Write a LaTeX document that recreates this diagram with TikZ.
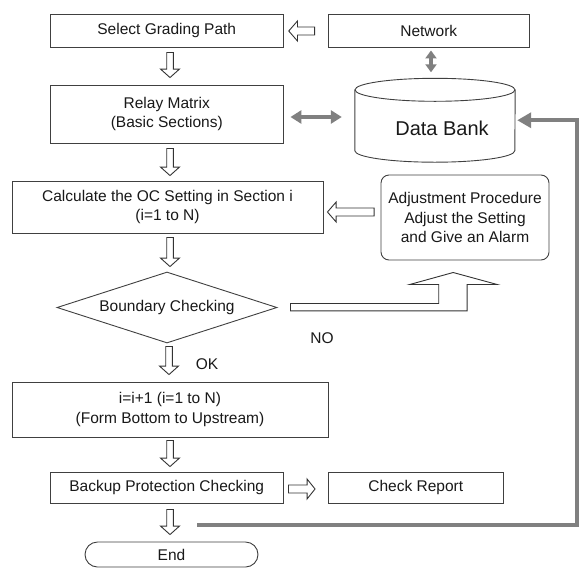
\documentclass[tikz,border=0pt]{standalone}
\usepackage{fontspec}
\setmainfont{Liberation Sans}
\usetikzlibrary{calc,shapes.geometric,arrows.meta}
\begin{document}
\begin{tikzpicture}[x=1pt,y=-1pt,
  box/.style={draw=black!75, line width=0.9pt, fill=white, inner sep=0pt, align=center,
    font=\fontsize{15.5}{19.5}\selectfont, text=black!90},
  txt/.style={inner sep=0pt, font=\fontsize{15.5}{19.5}\selectfont, text=black!90},
  hollow/.style={draw=black!80, line width=0.9pt, fill=white, line join=miter},
  hdown/.style={hollow, to path={let \p1=(\tikztostart), \p2=(\tikztotarget) in
    (\x1-3.3pt,\y1) -- (\x1-3.3pt,\y2+8.5pt) -- (\x1-9.5pt,\y2+8.5pt) -- (\x1,\y2)
    -- (\x1+9.5pt,\y2+8.5pt) -- (\x1+3.3pt,\y2+8.5pt) -- (\x1+3.3pt,\y1) -- cycle}},
  hleft/.style={hollow, to path={let \p1=(\tikztostart), \p2=(\tikztotarget) in
    (\x1,\y2+4pt) -- (\x2+8.7pt,\y2+4pt) -- (\x2+8.7pt,\y2+10pt) -- (\x2,\y2)
    -- (\x2+8.7pt,\y2-10pt) -- (\x2+8.7pt,\y2-4pt) -- (\x1,\y2-4pt) -- cycle}},
  hright/.style={hollow, to path={let \p1=(\tikztostart), \p2=(\tikztotarget) in
    (\x1,\y2+4pt) -- (\x2-8pt,\y2+4pt) -- (\x2-8pt,\y2+10pt) -- (\x2,\y2)
    -- (\x2-8pt,\y2-10pt) -- (\x2-8pt,\y2-4pt) -- (\x1,\y2-4pt) -- cycle}},
  grayln/.style={draw=black!50, line join=miter},
]
\useasboundingbox (0,0) rectangle (580,568);

% boxes
\node[box, minimum width=232.5pt, minimum height=32.5pt] (sel) at (166.75,30.75) {Select Grading Path};
\node[box, minimum width=200.5pt, minimum height=32.5pt] (net) at (428.75,30.75) {Network};
\node[box, minimum width=232.5pt, minimum height=58pt] (relay) at (166.75,114) {Relay Matrix\\(Basic Sections)};
\node[minimum width=160pt, minimum height=83.5pt, inner sep=0pt] (db) at (435,120.25) {};
\node[box, minimum width=311pt, minimum height=52pt] (calc) at (167.5,207) {Calculate the OC Setting in Section i\\(i=1 to N)};
\node[box, rounded corners=8pt, minimum width=168pt, minimum height=85pt] (adj) at (465,217.5) {Adjustment Procedure\\Adjust the Setting\\and Give an Alarm};
\node[box, diamond, aspect=3.1, minimum width=220pt, minimum height=71pt] (dia) at (167,307.5) {Boundary Checking};
\node[box, minimum width=316pt, minimum height=55pt] (ibox) at (170,409.5) {i=i+1 (i=1 to N)\\(Form Bottom to Upstream)};
\node[box, minimum width=232.5pt, minimum height=31pt] (backup) at (166.75,487.5) {Backup Protection Checking};
\node[box, minimum width=174.5pt, minimum height=31pt] (check) at (415.75,487.5) {Check Report};
\node[box, rounded corners=12.5pt, minimum width=173pt, minimum height=25pt] (stop) at (171.5,554.5) {End};

% data bank cylinder
\draw[draw=black!75, line width=0.9pt] ($(db.north)+(0,11.5)$) ellipse [x radius=80pt, y radius=11.5pt];
\draw[draw=black!75, line width=0.9pt] ($(db.north west)+(0,11.5)$) -- ($(db.south west)+(0,-11.5)$)
  arc[start angle=180, end angle=360, x radius=80pt, y radius=11.5pt] -- ($(db.north east)+(0,11.5)$);
\node[txt, font=\fontsize{20}{24}\selectfont] (dbl) at (442,128) {Data Bank};

% labels
\node[txt] (no) at (322,338) {NO};
\node[txt] (ok) at (207,364) {OK};

% hollow arrows
\coordinate (a1s) at ($(sel.south)+(3.25,5)$);   \coordinate (a1e) at ($(relay.north)+(3.25,-7)$);
\coordinate (a2s) at ($(relay.south)+(3.25,5)$); \coordinate (a2e) at ($(calc.north)+(2.5,-5)$);
\coordinate (a3s) at ($(calc.south)+(2.5,4)$);   \coordinate (a3e) at ($(dia.north)+(3,-5)$);
\coordinate (a4s) at ($(dia.south)+(2,3)$);      \coordinate (a4e) at ($(ibox.north)+(-1,-7)$);
\coordinate (a5s) at ($(ibox.south)+(0,3)$);     \coordinate (a5e) at ($(backup.north)+(3.25,-5)$);
\coordinate (a6s) at ($(backup.south)+(3.25,6)$);\coordinate (a6e) at ($(stop.north)+(1.5,-7)$);
\draw[hdown] (a1s) to (a1e);
\draw[hdown] (a2s) to (a2e);
\draw[hdown] (a3s) to (a3e);
\draw[hdown] (a4s) to (a4e);
\draw[hdown] (a5s) to (a5e);
\draw[hdown] (a6s) to (a6e);

\coordinate (b1s) at ($(net.west)+(-13.5,0.25)$); \coordinate (b1e) at ($(sel.east)+(5.3,0.25)$);
\coordinate (b2s) at ($(adj.west)+(-6.5,-5.5)$);  \coordinate (b2e) at ($(calc.east)+(4,5)$);
\coordinate (b3s) at ($(backup.east)+(5,1.5)$);   \coordinate (b3e) at ($(check.west)+(-13,1.5)$);
\draw[hleft] (b1s) to (b1e);
\draw[hleft] (b2s) to (b2e);
\draw[hright] (b3s) to (b3e);

% elbow hollow arrow (NO branch)
\coordinate (noS) at ($(dia.east)+(13,0)$);
\draw[hollow] ($(noS)+(0,-4)$) -- ++(148.3,0) -- ++(0,-19) -- ++(-29,0) -- ++(43.4,-12)
  -- ++(44,12) -- ++(-30,0) -- ++(0,26.4) -- ++(-176.7,0) -- cycle;

% gray connectors
\draw[grayln, line width=3.5pt, {Triangle[length=8pt,width=11pt]}-{Triangle[length=8pt,width=11pt]}]
  ($(net.south)+(2.25,3)$) -- ($(db.north)+(-4,-6)$);
\draw[grayln, line width=4pt, {Triangle[length=11pt,width=13pt]}-{Triangle[length=11pt,width=13pt]}]
  ($(relay.east)+(7,3)$) -- ($(db.west)+(-13,-3.25)$);
\coordinate (lp) at ($(backup.south)+(30.25,22)$);
\draw[grayln, line width=4pt, -{Triangle[length=14pt,width=15pt]}, shorten >=2pt]
  (lp) -- ++(380,0) |- (db.east);
\end{tikzpicture}
\end{document}
